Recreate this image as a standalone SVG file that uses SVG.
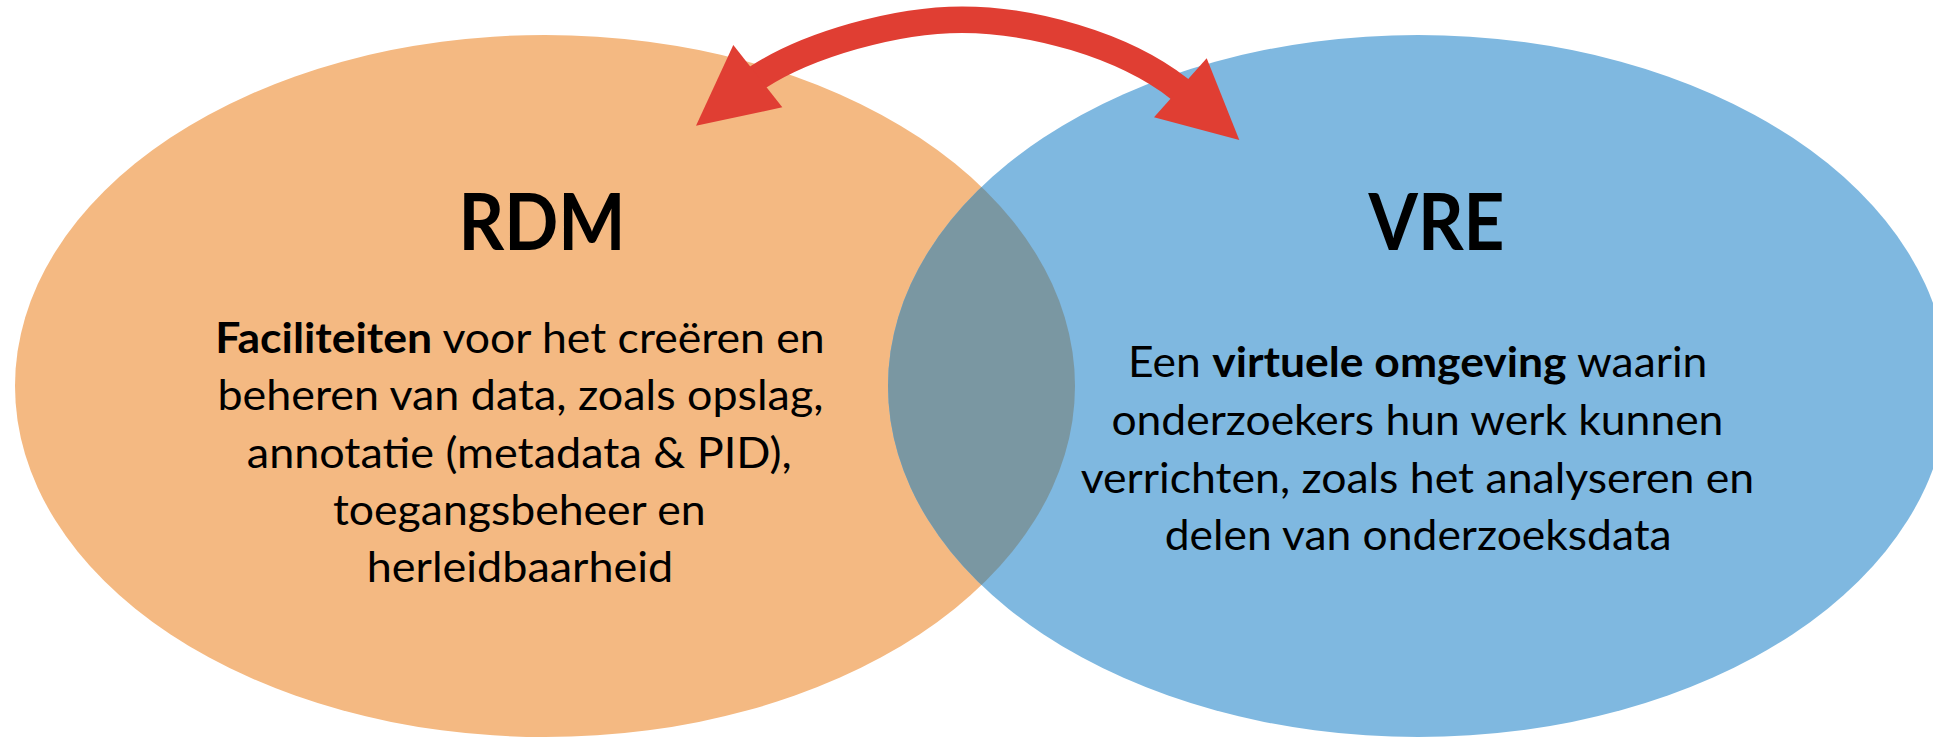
<svg xmlns="http://www.w3.org/2000/svg" width="1933" height="740" viewBox="0 0 1933 740">
  <style>
    .title { font-family: Lato, "Open Sans", "Liberation Sans", sans-serif; font-weight: 700; font-size: 79px; fill: #000; }
    .body { font-family: Lato, "Open Sans", "Liberation Sans", sans-serif; font-weight: 400; font-size: 42px; fill: #000; }
    .b { font-weight: 700; }
    .arrow { fill: none; stroke: #E03E33; stroke-width: 26.5; stroke-linecap: butt; }
    .head { fill: #E03E33; }
  </style>
  <defs>
    <clipPath id="leftClip">
      <ellipse cx="545" cy="386" rx="530" ry="351"/>
    </clipPath>
  </defs>
  <rect width="1933" height="740" fill="#FFFFFF"/>
  <g id="rdm-shape">
    <ellipse cx="545" cy="386" rx="530" ry="351" fill="#F4B982"/>
  </g>
  <g id="vre-shape">
    <ellipse cx="1418" cy="386" rx="530" ry="351" fill="#7FB8E0"/>
  </g>
  <g id="overlap">
    <ellipse cx="1418" cy="386" rx="530" ry="351" fill="#7A97A2" clip-path="url(#leftClip)"/>
  </g>
  <g id="rdm">
    <text class="title" x="458.5" y="250" textLength="167" lengthAdjust="spacingAndGlyphs">RDM</text>
    <text class="body" x="215.3" y="352.7" textLength="609.4" lengthAdjust="spacingAndGlyphs"><tspan class="b">Faciliteiten</tspan> voor het creëren en</text>
    <text class="body" x="217.4" y="409.5" textLength="606" lengthAdjust="spacingAndGlyphs">beheren van data, zoals opslag,</text>
    <text class="body" x="246.8" y="467.5" textLength="545" lengthAdjust="spacingAndGlyphs">annotatie (metadata &amp; PID),</text>
    <text class="body" x="333" y="525" textLength="372.6" lengthAdjust="spacingAndGlyphs">toegangsbeheer en</text>
    <text class="body" x="366.8" y="582" textLength="306.4" lengthAdjust="spacingAndGlyphs">herleidbaarheid</text>
  </g>
  <g id="vre">
    <text class="title" x="1368.5" y="250" textLength="136" lengthAdjust="spacingAndGlyphs">VRE</text>
    <text class="body" x="1128" y="376.7" textLength="579.4" lengthAdjust="spacingAndGlyphs">Een <tspan class="b">virtuele omgeving</tspan> waarin</text>
    <text class="body" x="1111.4" y="435" textLength="612" lengthAdjust="spacingAndGlyphs">onderzoekers hun werk kunnen</text>
    <text class="body" x="1080.7" y="492.7" textLength="673.5" lengthAdjust="spacingAndGlyphs">verrichten, zoals het analyseren en</text>
    <text class="body" x="1164.7" y="550" textLength="507" lengthAdjust="spacingAndGlyphs">delen van onderzoeksdata</text>
  </g>
  <g id="connectors">
    <path class="arrow" d="M 754.5,79.5 L 758.8,76.7 C 808,45 895,19.7 962,19.7 C 1030,19.7 1122,44 1179.2,88.7 L 1183.3,91.9"/>
    <polygon class="head" points="696,125.7 733.3,45 782.3,107.3"/>
    <polygon class="head" points="1239.3,140 1206.7,58.3 1154,117.3"/>
  </g>
</svg>
